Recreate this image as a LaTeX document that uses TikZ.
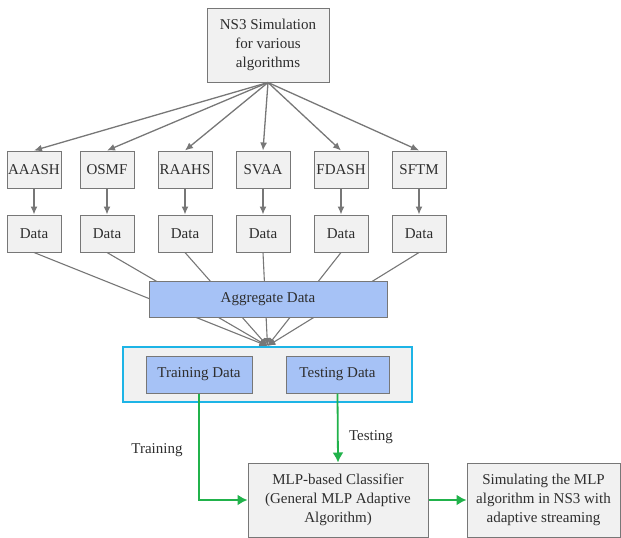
\documentclass[tikz,border=0pt]{standalone}
\usepackage{fontspec}
\setmainfont{Liberation Serif}
\usetikzlibrary{arrows.meta, positioning}
\definecolor{cgrey}{HTML}{777777}
\definecolor{cfill}{HTML}{F1F1F1}
\definecolor{cblue}{HTML}{A6C2F6}
\definecolor{ccyan}{HTML}{1DB4E6}
\definecolor{cgreen}{HTML}{21B24B}
\definecolor{ctext}{HTML}{2E2E2E}
\tikzset{
  every picture/.style={line width=1pt},
  box/.style={draw=cgrey, fill=cfill, align=center, inner sep=1pt, text=ctext,
    font=\fontsize{15}{19}\selectfont},
  algbox/.style={box, minimum width=54pt, minimum height=37pt},
  bluebox/.style={box, fill=cblue, draw=cgrey},
  arrow/.style={-{Latex[length=8pt, width=7pt]}, draw=cgrey, line width=1.3pt},
  fanline/.style={-{Latex[length=8pt, width=7pt]}, draw=cgrey, line width=1.1pt},
  garrow/.style={-{Latex[length=10pt, width=11pt]}, draw=cgreen, line width=1.8pt},
  note/.style={text=ctext, font=\fontsize{15}{19}\selectfont},
}

\begin{document}
\begin{tikzpicture}[x=1pt, y=-1pt]
  \useasboundingbox (0,0) rectangle (621,538);
  \node[box, minimum width=122pt, minimum height=74pt] (sim3) at (268,45) {NS3 Simulation\\for various\\algorithms};
  % algorithms
  \node[algbox] (a1) at (34,169.5) {AAASH};
  \node[algbox] (a2) at (107,169.5) {OSMF};
  \node[algbox] (a3) at (185,169.5) {RAAHS};
  \node[algbox] (a4) at (263,169.5) {SVAA};
  \node[algbox] (a5) at (341,169.5) {FDASH};
  \node[algbox] (a6) at (419,169.5) {SFTM};
  % data
  \node[algbox] (d1) at (34,233.5) {Data};
  \node[algbox] (d2) at (107,233.5) {Data};
  \node[algbox] (d3) at (185,233.5) {Data};
  \node[algbox] (d4) at (263,233.5) {Data};
  \node[algbox] (d5) at (341,233.5) {Data};
  \node[algbox] (d6) at (419,233.5) {Data};
  \draw[arrow] (sim3.south) -- (a1.north);
  \draw[arrow] (sim3.south) -- (a2.north);
  \draw[arrow] (sim3.south) -- (a3.north);
  \draw[arrow] (sim3.south) -- (a4.north);
  \draw[arrow] (sim3.south) -- (a5.north);
  \draw[arrow] (sim3.south) -- (a6.north);
  \draw[arrow] (a1) -- (d1);
  \draw[arrow] (a2) -- (d2);
  \draw[arrow] (a3) -- (d3);
  \draw[arrow] (a4) -- (d4);
  \draw[arrow] (a5) -- (d5);
  \draw[arrow] (a6) -- (d6);
  % split
  \node[draw=ccyan, fill=cfill, line width=2pt, minimum width=289pt, minimum height=55pt] (split) at (267.5,374.5) {};
  \node[bluebox, minimum width=106pt, minimum height=37pt] (train) at (199,374.5) {Training Data};
  \node[bluebox, minimum width=103pt, minimum height=37pt] (test) at (337.5,374.5) {Testing Data};
  \draw[fanline] (d1.south) -- (split.north);
  \draw[fanline] (d2.south) -- (split.north);
  \draw[fanline] (d3.south) -- (split.north);
  \draw[fanline] (d4.south) -- (split.north);
  \draw[fanline] (d5.south) -- (split.north);
  \draw[fanline] (d6.south) -- (split.north);
  \node[bluebox, minimum width=238pt, minimum height=36pt] (agg) at (268,299) {Aggregate Data};
  % classifier
  \node[box, minimum width=180pt, minimum height=74pt] (mlp) at (338,500) {MLP-based Classifier\\(General MLP Adaptive\\Algorithm)};
  \node[box, minimum width=153pt, minimum height=74pt] (simmlp) at (543.5,500) {Simulating the MLP\\algorithm in NS3 with\\adaptive streaming};
  \draw[garrow] (train.south) |- (mlp.west);
  \draw[garrow] (test.south) -- (mlp.north);
  \draw[garrow] (mlp) -- (simmlp);
  \node[note] (ltrain) at (157,450) {Training};
  \node[note] (ltest) at (371,437) {Testing};
\end{tikzpicture}
\end{document}
